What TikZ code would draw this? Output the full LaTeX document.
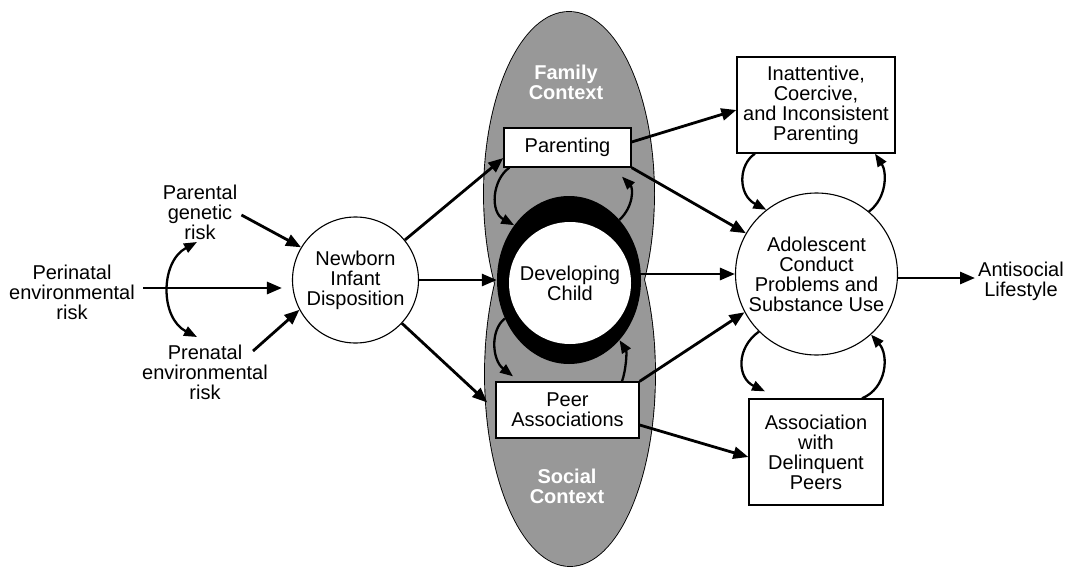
\documentclass[tikz,border=0pt]{standalone}
\usepackage{fontspec}
\setmainfont{Liberation Sans}
\usetikzlibrary{arrows.meta,shapes.geometric}
\definecolor{ctxgray}{RGB}{152,152,152}
\begin{document}
\begin{tikzpicture}[x=1pt,y=-1pt,
  txt/.style={font=\fontsize{20pt}{20pt}\selectfont, align=center, inner sep=0pt},
  ctx/.style={txt, text=white, font=\bfseries\fontsize{20pt}{20pt}\selectfont},
  arr/.style={line width=2.8pt, -{Triangle[length=15pt,width=12pt]}},
  loopar/.style={line width=2.3pt, -{Triangle[length=13pt,width=10pt]}},
  dbl/.style={line width=2.3pt, {Triangle[length=13pt,width=10pt]}-{Triangle[length=13pt,width=10pt]}},
  circ/.style={draw, circle, line width=1.1pt, inner sep=0pt, fill=white},
  box/.style={draw, rectangle, line width=1.3pt, inner sep=0pt, fill=white}
]
\useasboundingbox (0,0) rectangle (1075,567);
% context ellipses
\draw[line width=1.8pt] (569,194) ellipse [x radius=85pt, y radius=182pt];
\draw[line width=1.8pt] (570,374) ellipse [x radius=85pt, y radius=192pt];
\fill[ctxgray] (569,194) ellipse [x radius=85pt, y radius=182pt];
\fill[ctxgray] (570,374) ellipse [x radius=85pt, y radius=192pt];
\node[ctx] (family) at (566,82) {Family\\Context};
\node[ctx] (social) at (567,486) {Social\\Context};

% nodes
\node[txt] (peri) at (72,292) {Perinatal\\environmental\\risk};
\node[txt] (pgen) at (200,212) {Parental\\genetic\\risk};
\node[txt] (pren) at (205,372) {Prenatal\\environmental\\risk};
\node[circ, txt, minimum size=126pt] (newborn) at (355.5,280) {Newborn\\Infant\\Disposition};
\node[box, txt, minimum width=127pt, minimum height=39pt] (parenting) at (567.5,147.5) {Parenting};
\node[box, txt, minimum width=143pt, minimum height=56pt] (peer) at (567.5,410) {Peer\\Associations};
\node[ellipse, fill=black, minimum width=144pt, minimum height=168pt, inner sep=0pt] (ring) at (569,280) {};
\node[circle, fill=white, minimum size=122pt, txt] (dev) at (570,283) {Developing\\Child};
\node[box, txt, minimum width=158pt, minimum height=96pt] (inatt) at (816,105) {Inattentive,\\Coercive,\\and Inconsistent\\Parenting};
\node[circ, txt, minimum size=162pt] (adol) at (816.5,274) {Adolescent\\Conduct\\Problems and\\Substance Use};
\node[box, txt, minimum width=134pt, minimum height=106pt] (assoc) at (816,452) {Association\\with\\Delinquent\\Peers};
\node[txt] (anti) at (1021,281) {Antisocial\\Lifestyle};

% connectors
\draw[arr] ([shift={(8pt,4pt)}]peri.east) -- ([shift={(-10pt,-8pt)}]newborn.west);
\draw[arr] ([shift={(4pt,-3pt)}]pgen.east) -- (newborn.149);
\draw[arr] ([shift={(-15pt,21pt)}]pren.east) -- (newborn.208);
\coordinate (dblA) at (197,242);
\coordinate (dblB) at (197,337);
\draw[dbl] (dblA) .. controls (160,262) and (160,318) .. (dblB);

\draw[arr] (newborn.39) -- ([yshift=-10.5pt]parenting.west);
\draw[arr] (newborn.east) -- (ring.west);
\draw[arr, shorten >=11pt] (newborn.-43) -- (peer.west);

\draw[arr] ([yshift=5.5pt]parenting.east) -- ([yshift=-5pt]inatt.west);
\draw[arr] (parenting.south east) -- (adol.150);
\draw[arr] (ring.east |- adol.west) -- (adol.west);
\draw[arr] (peer.north east) -- (adol.208);
\draw[arr] ([yshift=-15pt]peer.east) -- ([yshift=-5pt]assoc.west);
\draw[arr] ([yshift=-4pt]adol.east) -- ([shift={(-3pt,3pt)}]anti.west);

% feedback loops
\draw[loopar] ([xshift=6pt]parenting.south west) .. controls (492,180) and (490,212) .. (ring.135);
\draw[loopar] (ring.50) .. controls (634,206) and (633,188) .. ([shift={(54.5pt,-9pt)}]parenting.south);
\draw[loopar] (ring.211) .. controls (490,330) and (492,360) .. ([shift={(-54.5pt,5pt)}]peer.north);
\draw[loopar] ([xshift=54.5pt]peer.north) .. controls (626,370) and (627,352) .. (ring.-50);
\draw[loopar] ([xshift=-61pt]inatt.south) .. controls (738,165) and (738,195) .. (adol.128);
\draw[loopar] (adol.50) .. controls (887,198) and (887,172) .. ([xshift=59pt]inatt.south);
\draw[loopar] (adol.225) .. controls (736,348) and (737,378) .. ([shift={(-51pt,7pt)}]assoc.north);
\draw[loopar] ([xshift=46pt]assoc.north) .. controls (887,388) and (889,355) .. (adol.-48);
\end{tikzpicture}
\end{document}
